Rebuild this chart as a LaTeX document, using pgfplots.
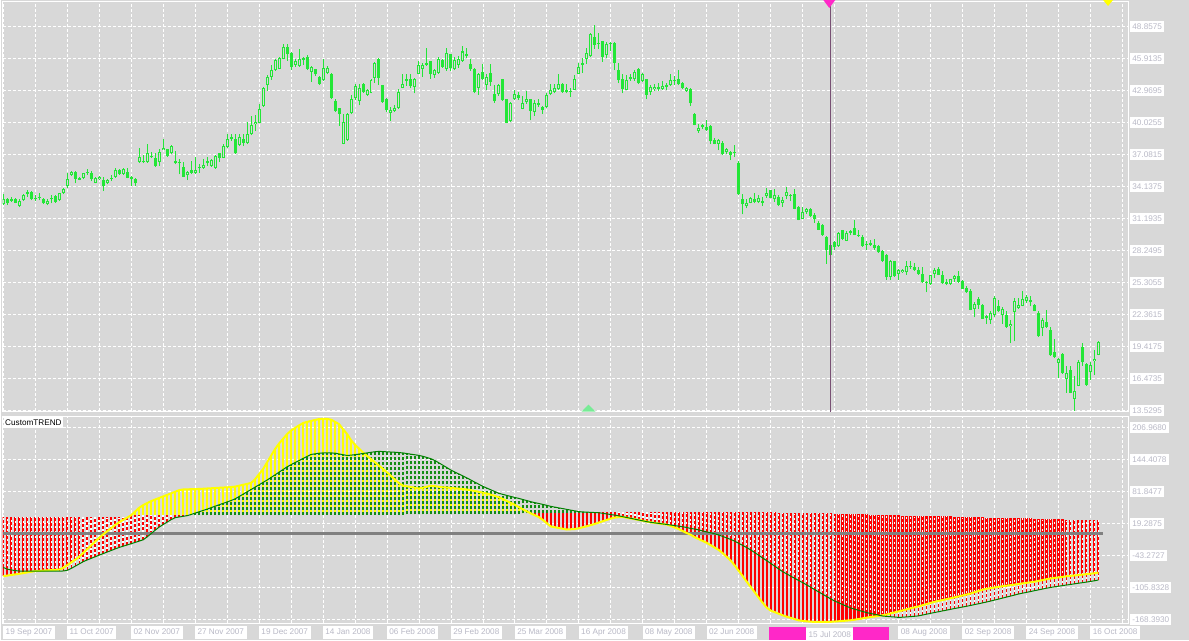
\documentclass[border=0pt]{standalone}
\usepackage{fontspec}
\setmainfont{Liberation Sans}
\usepackage{pgfplots}
\pgfplotsset{compat=1.18}
\usepackage{pgfplotstable}
\definecolor{bg}{RGB}{216,216,216}
\definecolor{candle}{RGB}{35,230,55}
\definecolor{labgray}{RGB}{185,185,198}
\definecolor{dkgreen}{RGB}{0,128,0}
\definecolor{dashgreen}{RGB}{20,140,20}
\definecolor{mtred}{RGB}{255,0,0}
\definecolor{mtyellow}{RGB}{255,255,0}
\definecolor{mag}{RGB}{255,40,200}
\definecolor{vline}{RGB}{120,80,115}
\definecolor{ltgreen}{RGB}{120,235,150}
\newcommand\lab{\fontsize{8.2bp}{9bp}\selectfont}

\pgfplotstableread{
i o h l c
0 32.51 33.40 32.39 33.00
1 33.00 33.05 32.42 32.57
2 32.82 33.15 32.69 33.00
3 33.00 33.09 32.57 32.63
4 32.33 32.94 32.23 32.79
5 32.88 33.40 32.79 33.31
6 33.43 33.77 33.19 33.61
7 33.61 33.71 32.85 32.94
8 33.12 33.31 32.76 32.94
9 33.15 33.55 32.85 33.06
10 33.00 33.09 32.51 32.57
11 32.48 32.94 32.39 32.79
12 32.94 33.31 32.57 33.09
13 33.25 33.31 32.63 32.72
14 32.88 33.55 32.79 33.49
15 33.49 34.01 33.43 33.86
16 34.17 35.39 33.95 34.84
17 35.21 35.52 35.09 35.45
18 35.45 35.52 34.41 34.84
19 34.93 35.02 34.69 34.75
20 34.93 35.39 34.78 35.33
21 35.33 35.70 35.21 35.45
22 35.39 35.58 34.63 34.78
23 34.47 34.96 34.41 34.87
24 34.78 35.06 34.69 34.99
25 34.72 34.99 33.71 34.17
26 34.41 34.78 34.32 34.72
27 34.84 35.21 34.63 34.93
28 35.03 35.85 34.93 35.61
29 35.61 35.70 35.21 35.27
30 35.30 35.85 35.21 35.70
31 35.45 35.82 34.87 34.90
32 34.99 35.09 34.17 34.78
33 34.78 34.87 34.17 34.41
34 36.37 37.63 36.31 36.80
35 36.34 36.99 36.25 36.44
36 36.37 38.00 36.31 37.17
37 36.80 37.29 36.71 36.86
38 36.71 37.23 35.95 36.01
39 36.37 37.54 36.01 37.33
40 37.50 38.46 37.46 37.70
41 37.54 37.60 36.83 36.93
42 37.17 37.91 37.08 37.85
43 36.44 37.39 36.16 36.25
44 36.31 36.68 35.24 36.25
45 35.95 36.37 35.00 35.03
46 35.18 35.58 34.72 35.49
47 35.61 36.44 35.30 35.39
48 35.39 36.86 35.30 35.61
49 35.79 36.16 35.39 35.88
50 35.85 36.62 35.76 36.07
51 36.47 36.86 36.01 36.25
52 36.01 36.62 35.95 36.56
53 35.82 36.99 35.76 36.93
54 37.17 37.23 36.37 36.74
55 36.77 38.06 36.71 37.85
56 37.75 38.92 37.69 38.46
57 38.46 38.92 38.31 38.64
58 38.52 38.92 37.14 37.17
59 37.94 38.92 37.85 38.67
60 38.46 38.92 37.85 38.15
61 38.09 40.08 38.00 38.98
62 38.92 40.61 38.83 39.75
63 39.84 40.67 39.23 40.08
64 39.99 41.68 39.93 41.28
65 41.53 43.30 41.47 43.21
66 43.43 44.35 42.91 44.22
67 44.22 45.27 43.92 44.84
68 44.87 45.88 44.78 45.73
69 44.96 46.06 44.90 45.97
70 45.88 47.20 45.82 46.98
71 46.98 47.20 45.67 46.28
72 46.37 46.49 44.84 45.11
73 45.30 45.88 45.11 45.70
74 45.21 46.74 45.15 45.82
75 45.97 46.06 45.30 45.76
76 46.06 46.19 44.84 44.90
77 44.65 45.21 43.73 45.11
78 44.90 44.96 44.29 44.44
79 44.22 44.29 43.49 43.58
80 43.89 45.88 43.83 45.05
81 44.53 45.21 44.44 44.99
82 44.44 44.53 42.14 42.23
83 41.96 42.14 40.97 41.07
84 41.31 41.37 39.69 40.76
85 38.06 40.76 38.00 40.08
86 38.40 40.91 38.34 40.76
87 40.85 42.51 40.76 42.20
88 42.30 43.50 42.10 43.40
89 41.99 43.52 41.59 43.21
90 43.58 43.67 42.75 42.81
91 42.54 43.12 42.45 42.97
92 42.75 43.98 42.69 43.89
93 44.13 45.57 43.67 45.45
94 45.88 45.94 43.49 44.13
95 43.43 43.49 41.83 41.89
96 42.14 42.29 40.97 41.16
97 40.91 41.47 40.15 41.16
98 41.07 41.59 40.97 41.37
99 41.37 43.06 41.28 42.84
100 43.21 44.50 43.15 43.52
101 43.83 44.50 43.37 43.98
102 43.98 44.50 43.15 43.37
103 43.27 44.13 42.69 44.04
104 44.50 45.67 44.44 45.27
105 44.96 45.51 44.19 45.27
106 45.51 46.83 45.21 45.30
107 45.64 45.67 44.01 44.44
108 44.35 44.96 44.13 44.81
109 44.59 46.03 44.50 45.88
110 45.73 45.82 45.05 45.11
111 44.90 46.89 44.75 46.43
112 46.28 46.34 44.75 44.99
113 44.90 46.03 44.81 45.73
114 45.30 46.13 45.05 45.88
115 45.67 47.05 45.61 46.53
116 46.34 46.83 45.97 46.13
117 45.36 45.82 44.75 44.90
118 44.90 45.05 42.69 42.81
119 43.21 44.59 42.54 44.44
120 44.65 45.36 43.92 43.98
121 43.46 44.50 43.00 44.22
122 44.59 45.42 43.37 43.73
123 42.66 43.46 41.83 41.99
124 42.60 43.52 42.45 43.43
125 43.98 43.98 41.99 42.05
126 42.14 42.20 39.93 39.99
127 40.15 41.92 40.08 41.83
128 42.14 42.97 42.05 42.66
129 42.51 42.84 42.08 42.29
130 41.28 42.45 41.22 41.83
131 41.92 42.91 41.74 42.20
132 42.14 42.20 40.21 41.07
133 40.97 42.05 40.61 41.83
134 41.83 42.20 41.43 41.62
135 41.46 41.52 40.82 41.16
136 41.46 42.75 41.37 42.51
137 42.60 43.52 42.51 43.00
138 42.81 43.52 42.69 43.15
139 43.06 44.50 42.97 43.58
140 43.58 43.67 42.75 42.81
141 42.97 43.52 42.69 42.81
142 42.91 43.21 42.35 42.84
143 43.00 44.35 42.97 44.04
144 44.50 45.51 44.44 45.15
145 45.27 45.97 44.59 45.45
146 45.88 46.89 45.42 46.43
147 46.13 48.21 46.03 48.12
148 47.87 48.95 46.80 47.14
149 47.29 48.27 46.80 47.23
150 47.45 47.51 45.61 46.03
151 46.22 47.41 45.97 47.26
152 47.35 47.38 46.53 47.20
153 47.35 47.38 44.84 45.51
154 44.81 45.51 43.61 43.92
155 44.04 44.50 42.69 43.06
156 43.00 44.35 42.97 43.89
157 44.19 44.44 43.83 43.98
158 43.98 44.81 43.83 44.69
159 44.90 44.99 43.52 43.61
160 43.83 44.59 43.73 44.50
161 43.98 44.04 42.14 42.54
162 42.81 43.43 42.54 43.27
163 43.06 43.52 42.91 43.27
164 43.27 43.61 42.91 43.06
165 43.12 43.83 43.03 43.37
166 43.27 43.67 42.97 43.43
167 43.43 44.44 43.37 43.89
168 43.83 44.29 43.43 43.92
169 44.04 44.81 43.43 43.52
170 43.61 43.73 43.06 43.21
171 42.91 43.27 42.84 43.15
172 43.06 43.21 41.52 41.77
173 40.76 40.85 39.75 39.78
174 39.23 39.84 39.07 39.47
175 39.59 39.90 39.38 39.75
176 39.62 40.21 39.23 39.29
177 39.69 39.75 38.00 38.31
178 38.37 38.61 38.00 38.06
179 38.06 38.52 37.48 38.37
180 38.15 38.31 37.02 37.08
181 37.29 37.69 37.14 37.54
182 37.29 37.39 36.56 37.02
183 37.23 37.91 36.86 37.17
184 36.25 36.47 33.31 33.40
185 32.94 33.46 31.56 32.48
186 32.33 33.00 32.11 32.57
187 32.63 33.15 32.57 33.03
188 32.94 33.55 32.57 32.69
189 32.69 33.31 32.57 33.03
190 32.79 33.18 32.33 32.63
191 33.25 34.01 33.09 33.49
192 33.77 33.80 33.03 33.09
193 32.94 33.86 32.72 33.31
194 33.18 33.31 32.33 32.42
195 32.63 33.15 32.26 32.85
196 33.25 34.10 32.94 33.64
197 33.31 33.46 32.79 33.25
198 33.40 33.86 32.02 32.08
199 32.26 32.33 31.01 31.04
200 31.16 32.26 31.10 31.77
201 31.77 32.11 31.65 32.02
202 32.08 32.17 31.31 31.41
203 31.47 31.71 30.79 31.10
204 30.79 30.94 30.12 30.18
205 30.55 30.70 29.63 29.66
206 29.50 29.57 27.05 28.28
207 27.82 28.95 27.51 28.80
208 29.01 29.11 28.28 28.58
209 28.65 29.96 28.58 29.87
210 30.09 30.18 29.20 29.32
211 29.17 30.03 29.11 29.87
212 29.87 30.18 29.66 30.03
213 30.33 31.01 29.66 29.72
214 29.66 30.09 29.50 29.57
215 29.50 29.72 28.58 28.65
216 28.86 29.11 28.28 28.74
217 28.80 29.26 28.65 28.95
218 28.80 29.32 28.28 28.49
219 28.71 28.80 28.03 28.09
220 28.25 28.34 27.20 27.27
221 27.88 27.94 25.58 25.79
222 25.82 27.42 25.58 27.33
223 27.27 27.33 25.82 25.88
224 26.10 26.56 25.58 26.44
225 26.25 26.56 26.19 26.44
226 26.25 27.27 26.04 26.87
227 26.75 27.33 26.59 26.87
228 26.75 27.11 26.41 26.50
229 26.50 26.71 26.04 26.10
230 26.13 26.71 25.27 25.33
231 25.37 25.43 24.41 25.27
232 25.21 26.04 25.12 25.98
233 26.10 26.65 25.73 26.50
234 26.56 26.71 25.98 26.04
235 26.04 26.35 25.21 25.27
236 25.37 25.64 25.06 25.18
237 25.18 25.67 25.12 25.64
238 25.67 25.98 25.37 25.89
239 25.89 26.35 25.27 25.33
240 25.49 25.52 24.72 24.75
241 24.81 25.03 24.35 24.41
242 24.51 24.72 22.76 22.82
243 22.88 23.49 22.11 23.34
244 23.83 23.95 22.91 23.28
245 23.28 23.37 21.96 21.99
246 22.21 22.36 21.50 22.05
247 21.84 22.67 21.53 22.51
248 22.30 24.05 22.15 23.89
249 23.19 23.74 22.57 22.67
250 22.30 23.03 21.53 22.88
251 22.36 22.67 21.13 21.19
252 21.29 21.90 19.75 21.53
253 22.61 23.89 19.91 23.65
254 22.97 23.89 22.91 23.28
255 23.19 24.57 23.13 23.80
256 23.65 24.20 23.43 23.95
257 23.74 24.05 23.13 23.49
258 23.28 23.34 22.67 22.73
259 22.51 22.67 20.30 20.37
260 21.13 22.05 20.37 21.84
261 21.68 22.82 21.13 21.22
262 20.98 21.22 18.59 18.62
263 18.92 20.15 18.37 18.43
264 17.91 18.37 16.53 18.28
265 18.74 18.83 16.93 16.99
266 16.44 17.67 15.21 16.99
267 17.30 17.67 15.15 15.21
268 14.60 16.69 13.53 15.31
269 15.83 18.22 15.77 18.00
270 19.35 19.75 17.67 17.97
271 17.82 17.91 15.83 15.92
272 17.05 17.97 16.32 17.76
273 18.07 19.14 16.84 18.28
274 18.68 19.97 18.62 19.84
}\candles

% indicator: y = yellow line, g = green line, b = histogram base
\pgfplotstableread{
i y g b
0 -83.7 -66.7 32.4
1 -82.5 -70.0 32.4
2 -81.3 -71.5 32.4
3 -80.2 -72.8 32.4
4 -79.0 -73.6 32.4
5 -77.7 -74.0 32.4
6 -76.3 -74.0 32.4
7 -75.0 -74.0 32.4
8 -73.8 -74.0 32.4
9 -73.3 -74.0 32.4
10 -72.8 -74.0 32.4
11 -72.3 -74.0 32.4
12 -71.8 -74.0 32.4
13 -71.3 -74.0 32.4
14 -70.8 -74.0 32.4
15 -67.4 -73.5 32.4
16 -62.1 -72.2 32.4
17 -56.8 -68.5 32.4
18 -51.5 -64.1 32.4
19 -45.6 -59.7 32.4
20 -38.2 -55.3 32.4
21 -30.8 -51.9 32.4
22 -23.3 -48.8 32.4
23 -15.9 -45.7 32.4
24 -8.5 -42.5 32.4
25 -1.8 -39.5 32.4
26 4.3 -36.4 32.4
27 10.4 -33.4 32.4
28 16.4 -30.3 32.4
29 21.9 -27.5 32.4
30 26.5 -25.0 32.4
31 30.9 -22.6 32.4
32 35.6 -20.1 34.0
33 42.9 -17.6 35.1
34 50.2 -15.1 35.1
35 55.3 -12.5 35.1
36 59.3 -6.8 35.1
37 63.2 -0.3 35.1
38 66.3 6.3 35.1
39 69.3 12.4 35.1
40 72.4 17.3 35.1
41 75.4 22.1 35.1
42 78.4 27.0 35.1
43 81.5 30.8 35.4
44 84.6 32.1 35.4
45 86.0 33.4 35.4
46 86.2 34.7 35.4
47 86.5 37.0 35.4
48 86.7 39.7 35.4
49 87.0 42.3 35.4
50 87.4 44.9 35.4
51 87.9 47.5 35.4
52 88.3 50.4 35.4
53 88.8 53.2 35.7
54 89.3 56.0 35.7
55 89.7 58.8 35.7
56 90.2 61.5 35.7
57 90.7 64.3 35.7
58 91.5 67.6 35.7
59 93.3 72.1 35.7
60 95.1 76.7 35.7
61 96.9 81.3 35.7
62 98.7 85.9 35.7
63 106.0 90.5 36.0
64 116.0 95.1 36.0
65 125.9 99.8 36.0
66 139.1 104.4 36.0
67 152.1 109.4 36.0
68 165.1 114.6 36.0
69 175.9 119.8 36.0
70 185.0 125.0 36.0
71 194.2 130.2 36.0
72 201.3 134.5 36.0
73 206.3 138.5 36.3
74 211.3 142.5 36.3
75 215.9 146.6 36.3
76 218.2 150.6 36.3
77 220.0 154.5 36.3
78 222.0 155.7 36.3
79 223.7 156.9 36.3
80 224.0 157.5 36.3
81 224.0 157.5 36.3
82 222.6 157.5 36.3
83 218.2 157.0 36.6
84 213.9 155.5 36.6
85 203.9 154.0 36.6
86 194.6 152.5 36.6
87 182.4 153.1 36.6
88 173.4 154.1 36.6
89 165.9 155.2 36.6
90 158.4 156.4 36.6
91 151.6 157.5 36.6
92 145.5 158.7 36.6
93 139.1 159.8 36.9
94 132.6 160.5 36.9
95 126.2 160.1 36.9
96 119.7 159.6 36.9
97 112.5 159.2 36.9
98 105.3 158.8 36.9
99 98.1 158.2 36.9
100 93.7 157.4 36.9
101 92.2 156.2 37.1
102 90.7 155.0 37.1
103 89.2 153.8 37.1
104 87.7 152.6 37.1
105 89.4 150.8 37.1
106 91.4 148.5 37.4
107 93.3 146.1 37.4
108 92.4 142.6 37.4
109 91.2 138.0 37.4
110 90.1 133.3 37.4
111 89.7 128.7 37.7
112 89.1 123.8 37.7
113 88.3 120.0 37.7
114 87.5 116.2 37.7
115 86.8 112.4 37.7
116 85.9 108.6 38.0
117 84.5 104.3 38.0
118 82.9 100.2 38.0
119 81.3 96.1 38.0
120 79.6 92.0 38.0
121 77.9 88.6 38.2
122 75.6 85.2 38.2
123 73.3 81.8 38.2
124 70.6 78.4 38.2
125 67.2 76.3 38.6
126 63.4 74.3 38.6
127 59.6 72.3 38.6
128 55.8 70.3 38.6
129 51.3 68.5 38.6
130 47.0 66.3 39.2
131 43.1 64.2 39.2
132 39.2 62.0 39.2
133 35.5 60.2 39.2
134 31.9 58.5 39.2
135 26.4 56.7 39.8
136 19.9 54.8 39.8
137 13.6 52.9 39.8
138 12.1 51.4 39.8
139 10.6 49.9 39.8
140 9.1 48.5 40.4
141 7.6 47.0 40.4
142 8.1 45.5 40.4
143 8.6 44.1 40.4
144 10.1 42.6 40.4
145 12.1 42.0 41.0
146 14.0 41.6 41.0
147 16.2 41.2 41.0
148 18.6 40.8 41.0
149 21.1 40.4 41.0
150 23.8 39.3 41.0
151 26.4 38.1 41.0
152 29.0 36.9 41.0
153 31.0 35.7 41.0
154 31.8 34.3 41.0
155 32.4 32.7 41.5
156 30.7 31.1 41.5
157 29.1 29.5 41.5
158 27.9 27.8 41.5
159 26.3 26.2 41.5
160 24.7 24.6 41.5
161 23.2 23.0 41.5
162 21.6 21.7 41.5
163 20.6 20.6 41.5
164 19.5 19.6 41.5
165 18.3 18.5 42.0
166 17.4 17.5 42.0
167 14.6 16.4 42.0
168 11.6 15.3 42.0
169 8.6 14.1 42.0
170 4.7 13.0 42.0
171 0.7 11.6 42.0
172 -2.7 9.6 42.0
173 -7.4 8.5 42.0
174 -11.1 6.8 42.0
175 -14.8 4.8 42.0
176 -18.4 2.8 42.0
177 -23.0 1.2 42.0
178 -27.8 -0.7 42.0
179 -32.3 -3.1 42.0
180 -38.7 -5.9 42.0
181 -45.9 -8.9 41.5
182 -53.2 -11.8 41.5
183 -62.6 -15.1 41.5
184 -73.1 -19.3 41.5
185 -83.6 -23.5 41.5
186 -94.3 -27.7 41.5
187 -104.7 -32.3 41.5
188 -115.1 -37.5 41.0
189 -125.6 -42.8 41.0
190 -135.8 -48.0 41.0
191 -145.0 -53.2 41.0
192 -151.1 -58.6 41.0
193 -154.0 -64.0 41.0
194 -157.1 -69.4 40.5
195 -160.2 -74.8 40.5
196 -162.9 -79.2 40.5
197 -165.3 -83.5 40.5
198 -167.7 -87.8 40.5
199 -170.1 -92.1 40.5
200 -171.2 -96.2 39.9
201 -172.0 -100.7 39.9
202 -172.8 -105.3 39.9
203 -173.0 -109.9 39.9
204 -173.0 -114.4 39.1
205 -173.0 -118.9 39.1
206 -173.0 -123.5 39.1
207 -173.0 -128.0 39.1
208 -172.5 -132.3 38.3
209 -171.9 -135.7 38.3
210 -171.3 -139.1 38.3
211 -170.6 -142.5 38.3
212 -170.0 -145.9 37.5
213 -168.9 -148.2 37.5
214 -167.6 -150.5 37.5
215 -166.2 -152.7 37.5
216 -164.9 -155.0 37.5
217 -163.5 -156.6 36.6
218 -162.7 -158.3 36.6
219 -161.4 -159.9 36.6
220 -160.1 -161.6 36.6
221 -158.8 -162.4 35.8
222 -156.6 -163.0 35.8
223 -154.6 -163.6 35.8
224 -152.6 -164.3 35.8
225 -150.7 -164.0 35.0
226 -148.7 -163.4 35.0
227 -146.7 -162.8 35.0
228 -144.7 -162.2 35.0
229 -142.9 -161.4 34.1
230 -140.6 -159.7 34.1
231 -138.4 -158.1 34.1
232 -136.1 -156.4 34.1
233 -133.9 -154.8 34.1
234 -132.2 -153.3 33.3
235 -130.5 -151.7 33.3
236 -128.8 -150.2 33.3
237 -127.0 -148.6 33.3
238 -125.2 -147.0 32.5
239 -123.4 -145.6 32.5
240 -121.5 -144.1 32.5
241 -119.7 -142.6 32.5
242 -117.7 -141.0 31.8
243 -115.2 -139.3 31.8
244 -112.8 -137.7 31.8
245 -110.3 -136.0 31.8
246 -108.4 -134.3 31.0
247 -107.2 -132.4 31.0
248 -105.9 -130.5 31.0
249 -104.7 -128.6 31.0
250 -103.4 -126.6 30.1
251 -102.3 -124.6 30.1
252 -101.3 -122.7 30.1
253 -100.2 -120.7 30.1
254 -99.1 -118.6 29.4
255 -97.9 -117.0 29.4
256 -96.8 -115.4 29.4
257 -95.7 -113.8 29.4
258 -94.6 -112.1 28.6
259 -93.0 -110.5 28.6
260 -91.4 -108.9 28.6
261 -89.8 -107.3 28.6
262 -88.3 -105.8 27.8
263 -87.1 -104.6 27.8
264 -86.2 -103.4 27.8
265 -85.1 -102.2 27.8
266 -83.9 -101.0 27.0
267 -83.1 -99.9 27.0
268 -82.3 -98.7 27.0
269 -81.5 -97.5 27.0
270 -80.7 -96.4 26.1
271 -79.7 -95.3 26.1
272 -78.9 -94.0 26.1
273 -77.9 -92.7 26.1
274 -77.0 -91.2 26.1
}\ind

\pgfplotsset{mtaxis/.style={
  scale only axis, anchor=south west,
  width=1126.3bp,
  xmin=-0.15, xmax=281.43,
  axis line style={white, line width=0.9bp},
  major tick length=0pt, tick style={draw=none},
  xtick={0,8,...,280}, xticklabels={},
  grid=major,
  major grid style={white, line width=0.8bp, dash pattern=on 3bp off 2bp},
  yticklabel pos=right,
  yticklabel style={font=\lab, text=labgray, fill=white, inner xsep=2.1bp, inner ysep=2.5bp,
    text height=6bp, text depth=0bp, anchor=west, xshift=2bp},
}}
\pgfplotsset{ebar/.style={draw=none, forget plot, error bars/.cd, y dir=plus, y explicit, error mark=none,
  error bar style={#1}}}

\begin{document}
\begin{tikzpicture}[x=1bp,y=1bp]
\fill[bg] (0,0) rectangle (1189,641);

% ---------------- price panel ----------------
\begin{axis}[mtaxis,
  at={(1.7bp,229.3bp)}, height=410.7bp,
  ymin=13.48, ymax=51.17,
  ytick={13.5295,16.4735,19.4175,22.3615,25.3055,28.2495,31.1935,34.1375,37.0815,40.0255,42.9695,45.9135,48.8575},
  yticklabels={13.5295,16.4735,19.4175,22.3615,25.3055,28.2495,31.1935,34.1375,37.0815,40.0255,42.9695,45.9135,48.8575},
]
\addplot[ebar={draw=candle, line width=1bp, solid}]
  table[x=i, y=l, y error expr=\thisrow{h}-\thisrow{l}] {\candles};
\addplot[ebar={draw=candle, line width=3bp, solid}]
  table[x=i, y expr={min(\thisrow{o},\thisrow{c})}, y error expr={max(abs(\thisrow{c}-\thisrow{o}),0.09)}] {\candles};
\addplot[ebar={draw=bg, line width=1bp, solid}]
  table[x=i, y expr={\thisrow{o}+0.092}, y error expr={max(\thisrow{c}-\thisrow{o}-0.184,0)}] {\candles};
\draw[vline, line width=0.7bp] (axis cs:206.85,13) -- (axis cs:206.85,52);
\end{axis}

% ---------------- indicator panel ----------------
\begin{axis}[mtaxis,
  at={(1.7bp,17.5bp)}, height=207bp,
  ymin=-175.24, ymax=229.45,
  ytick={-168.393,-105.8328,-43.2727,19.2875,81.8477,144.4078,206.968},
  yticklabels={-168.3930,-105.8328,-43.2727,19.2875,81.8477,144.4078,206.9680},
  extra x ticks={0,16,32,48,64,80,96,112,128,144,160,176,224,240,256,272},
  extra x tick labels={19 Sep 2007,11 Oct 2007,02 Nov 2007,27 Nov 2007,19 Dec 2007,14 Jan 2008,06 Feb 2008,29 Feb 2008,25 Mar 2008,16 Apr 2008,08 May 2008,02 Jun 2008,08 Aug 2008,02 Sep 2008,24 Sep 2008,16 Oct 2008},
  extra x tick style={grid=none, xticklabel style={font=\lab, text=labgray, fill=white,
    inner xsep=2.6bp, inner ysep=2.4bp, text height=6.3bp, text depth=1.8bp, anchor=north west, xshift=-0.4bp, yshift=-3bp}},
]
% solid histogram: base -> yellow line
\addplot[ebar={draw=mtyellow, line width=2.2bp, solid}]
  table[x=i, y=b, y error expr={max(\thisrow{y}-\thisrow{b},0)}] {\ind};
\addplot[ebar={draw=mtred, line width=2.2bp, solid}]
  table[x=i, y expr={min(\thisrow{y},\thisrow{b})}, y error expr={max(\thisrow{b}-\thisrow{y},0)}] {\ind};
% dotted histogram: base -> green line
\addplot[ebar={draw=dashgreen, line width=1.5bp, dash pattern=on 3bp off 2bp}]
  table[x=i, y=b, y error expr={max(\thisrow{g}-\thisrow{b},0)}] {\ind};
\addplot[ebar={draw=white, line width=1.5bp, solid}]
  table[x=i, y expr={min(\thisrow{g},\thisrow{b})}, y error expr={max(\thisrow{b}-\thisrow{g},0)}] {\ind};
\addplot[ebar={draw=mtred, line width=1.5bp, dash pattern=on 3bp off 2bp}]
  table[x=i, y expr={min(\thisrow{g},\thisrow{b})}, y error expr={max(\thisrow{b}-\thisrow{g},0)}] {\ind};
\addplot[color=gray, line width=2.8bp] coordinates {(-0.15,0) (275.2,0)};
\addplot[mtyellow, line width=2bp] table[x=i,y=y] {\ind};
\addplot[dkgreen, line width=1bp] table[x=i,y=g] {\ind};
\end{axis}

% ---------------- annotations ----------------
\node[anchor=north west, fill=white, inner xsep=1.5bp, inner ysep=1.5bp, text height=6.3bp, text depth=1.8bp, font=\lab] at (2.5,223.5) {CustomTREND};
\fill[mag] (769,0) rectangle (806,13);
\fill[mag] (853,0) rectangle (889,13);
\node[fill=white, minimum width=47bp, minimum height=12bp, inner sep=0pt, font=\lab, text=labgray] at (829.5,6) {15 Jul 2008};
\fill[mag] (823,641) -- (835,641) -- (829,633) -- cycle;
\fill[mtyellow] (1103,641) -- (1113,641) -- (1108,635) -- cycle;
\fill[ltgreen] (581,229) -- (595,229) -- (588,236) -- cycle;
\end{tikzpicture}
\end{document}
